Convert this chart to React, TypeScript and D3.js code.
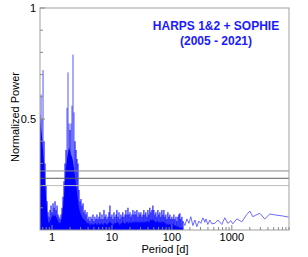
import React from "react";
import * as d3 from "d3";

// Dense periodogram part: period [d], lower solid envelope, spike tops
const densePeriods = [
  0.631, 0.656, 0.681, 0.708, 0.736, 0.764, 0.794, 0.825, 0.858, 0.891, 0.926, 0.962,
  1.0, 1.039, 1.08, 1.122, 1.166, 1.212, 1.259, 1.308, 1.359, 1.413, 1.468, 1.525,
  1.585, 1.647, 1.711, 1.778, 1.848, 1.92, 1.995, 2.073, 2.154, 2.239, 2.326, 2.417,
  2.512, 2.61, 2.712, 2.818, 2.929, 3.04, 3.16, 3.29, 3.41, 3.55, 3.68, 3.83,
  3.98, 4.13, 4.29, 4.46, 4.64, 4.82, 5.01, 5.2, 5.41, 5.62, 5.84, 6.07,
  6.31, 6.55, 6.81, 7.08, 7.36, 7.64, 7.94, 8.25, 8.58, 8.91, 9.26, 9.62,
  10.0, 10.4, 10.8, 11.2, 11.7, 12.1, 12.6, 13.1, 13.6, 14.1, 14.7, 15.2,
  15.8, 16.5, 17.1, 17.8, 18.5, 19.2, 20.0, 20.7, 21.5, 22.4, 23.3, 24.2,
  25.1, 26.1, 27.1, 28.2, 29.3, 30.4, 31.6, 32.9, 34.1, 35.5, 36.8, 38.3,
  39.8, 41.3, 42.9, 44.6, 46.4, 48.2, 50.1, 52.0, 54.1, 56.2, 58.4, 60.7,
  63.1, 65.5, 68.1, 70.8, 73.6, 76.4, 79.4, 82.5, 85.8, 89.1, 92.6, 96.2,
  100, 104, 108, 112, 117, 121, 126, 131, 136, 141, 147, 153,
];
const denseFloor = [
  0.5, 0.46, 0.42, 0.36, 0.3, 0.22, 0.15, 0.09, 0.04, 0.03, 0.04, 0.05,
  0.06, 0.07, 0.06, 0.07, 0.06, 0.05, 0.04, 0.03, 0.03, 0.04, 0.06, 0.1,
  0.15, 0.22, 0.28, 0.32, 0.35, 0.37, 0.36, 0.34, 0.33, 0.31, 0.28, 0.24,
  0.2, 0.17, 0.13, 0.1, 0.08, 0.07, 0.06, 0.05, 0.05, 0.04, 0.04, 0.03,
  0.03, 0.03, 0.02, 0.03, 0.02, 0.03, 0.02, 0.03, 0.03, 0.02, 0.03, 0.03,
  0.02, 0.03, 0.03, 0.02, 0.03, 0.03, 0.03, 0.02, 0.03, 0.03, 0.04, 0.03,
  0.03, 0.02, 0.03, 0.03, 0.03, 0.04, 0.03, 0.03, 0.02, 0.03, 0.03, 0.04,
  0.03, 0.03, 0.03, 0.04, 0.03, 0.03, 0.04, 0.03, 0.03, 0.04, 0.03, 0.04,
  0.03, 0.04, 0.03, 0.04, 0.03, 0.04, 0.03, 0.04, 0.03, 0.04, 0.03, 0.04,
  0.04, 0.03, 0.04, 0.05, 0.04, 0.05, 0.04, 0.04, 0.03, 0.04, 0.04, 0.03,
  0.04, 0.03, 0.04, 0.03, 0.04, 0.03, 0.03, 0.02, 0.03, 0.02, 0.03, 0.02,
  0.02, 0.03, 0.02, 0.02, 0.02, 0.01, 0.02, 0.01, 0.01, 0.01, 0.01, 0.01,
];
const densePeak = [
  0.52, 0.61, 0.5, 0.72, 0.4, 0.3, 0.2, 0.13, 0.08, 0.06, 0.09, 0.11,
  0.08, 0.12, 0.1, 0.13, 0.09, 0.11, 0.07, 0.06, 0.05, 0.07, 0.1, 0.15,
  0.22, 0.3, 0.36, 0.55, 0.71, 0.48, 0.45, 0.48, 0.56, 0.79, 0.53, 0.4,
  0.36, 0.32, 0.3, 0.18, 0.13, 0.14, 0.11, 0.12, 0.08, 0.09, 0.07, 0.08,
  0.05, 0.06, 0.04, 0.06, 0.05, 0.07, 0.04, 0.06, 0.05, 0.07, 0.05, 0.06,
  0.08, 0.05, 0.07, 0.05, 0.09, 0.06, 0.07, 0.05, 0.06, 0.08, 0.11, 0.06,
  0.07, 0.05, 0.08, 0.06, 0.07, 0.09, 0.06, 0.08, 0.05, 0.07, 0.06, 0.08,
  0.06, 0.07, 0.09, 0.07, 0.1, 0.07, 0.08, 0.06, 0.07, 0.09, 0.07, 0.085,
  0.07, 0.09, 0.06, 0.08, 0.07, 0.08, 0.06, 0.07, 0.09, 0.07, 0.08, 0.06,
  0.09, 0.07, 0.1, 0.08, 0.09, 0.11, 0.09, 0.07, 0.08, 0.06, 0.09, 0.07,
  0.08, 0.06, 0.09, 0.07, 0.09, 0.06, 0.07, 0.05, 0.08, 0.06, 0.07, 0.05,
  0.06, 0.05, 0.07, 0.05, 0.06, 0.04, 0.06, 0.07, 0.075, 0.05, 0.06, 0.04,
];

// Sparse long-period part (thin line)
const tailPeriods = [
  153, 165, 178, 192, 207, 224, 242, 261, 282, 304, 329, 355, 369, 398, 430, 464,
  521, 585, 681, 764, 858, 962, 1039, 1211, 1468, 1778, 1995, 2239, 2512, 2929,
  3548, 4299, 5209, 7079, 8913,
];
const tailPower = [
  0.04, 0.02, 0.05, 0.03, 0.06, 0.02, 0.045, 0.015, 0.04, 0.03, 0.055, 0.035, 0.05,
  0.025, 0.045, 0.028, 0.03, 0.045, 0.025, 0.055, 0.03, 0.042, 0.028, 0.05, 0.037,
  0.07, 0.085, 0.06, 0.067, 0.075, 0.05, 0.072, 0.068, 0.063, 0.058,
];

// False-alarm probability levels
const faLevels = [0.266, 0.233, 0.2];
const faColors = ["#8a8a8a", "#5e5e5e", "#bdbdbd"];

const xMajorTicks = [1, 10, 100, 1000];
const xTickLabels = ["1", "10", "100", "1000"];
const yMajorTicks = [0.5, 1];
const yTickLabels = ["0.5", "1"];

const titleLines = ["HARPS 1&2 + SOPHIE", "(2005 - 2021)"];

const W = 308;
const H = 257;
const m = { left: 40, right: 289, top: 8, bottom: 230 };

export default function App() {
  const x = d3.scaleLog().domain([0.63, 9000]).range([m.left, m.right]);
  const y = d3.scaleLinear().domain([0, 1]).range([m.bottom, m.top]);

  const dense = densePeriods.map((p, i) => ({ p, lo: denseFloor[i], hi: densePeak[i] }));
  const area = d3
    .area<{ p: number; lo: number }>()
    .x((d) => x(d.p))
    .y0(y(0))
    .y1((d) => y(d.lo));
  const tail = tailPeriods.map((p, i) => ({ p, v: tailPower[i] }));
  const line = d3
    .line<{ p: number; v: number }>()
    .x((d) => x(d.p))
    .y((d) => y(d.v));

  const minorX: number[] = [];
  for (let e = -1; e <= 3; e++) {
    for (let k = 2; k <= 9; k++) {
      const v = k * Math.pow(10, e);
      if (v >= 0.63 && v <= 9000) minorX.push(v);
    }
  }
  const minorY = d3.range(1, 10).map((i) => i / 10);

  const font = "'Liberation Sans', Arial, Helvetica, sans-serif";

  return (
    <svg
      width={W}
      height={H}
      style={{ position: "absolute", left: 0, top: 0, background: "#fff" }}
    >
      <rect x={0} y={0} width={W} height={H} fill="#fff" />
      <clipPath id="plotclip">
        <rect x={m.left} y={m.top} width={m.right - m.left} height={m.bottom - m.top} />
      </clipPath>
      <g clipPath="url(#plotclip)">
        <path d={area(dense) || ""} fill="#0000ff" />
        {dense.map((d, i) => (
          <line
            key={i}
            x1={x(d.p)}
            x2={x(d.p)}
            y1={y(0)}
            y2={y(d.hi)}
            stroke="#0000ff"
            strokeOpacity={d.hi > 0.45 ? 0.75 : 0.95}
            strokeWidth={d.hi > 0.45 ? 0.9 : 1.1}
          />
        ))}
        <path d={line(tail) || ""} fill="none" stroke="#5a5aff" strokeWidth={0.9} />
      </g>
      {faLevels.map((v, i) => (
        <line
          key={i}
          x1={m.left}
          x2={m.right}
          y1={y(v)}
          y2={y(v)}
          stroke={faColors[i]}
          strokeWidth={1}
        />
      ))}
      {/* frame */}
      <rect
        x={m.left}
        y={m.top}
        width={m.right - m.left}
        height={m.bottom - m.top}
        fill="none"
        stroke="#a0a0a0"
        strokeWidth={1}
      />
      {/* y ticks */}
      {minorY.map((v) => (
        <line key={v} x1={m.left} x2={m.left + 3} y1={y(v)} y2={y(v)} stroke="#888" />
      ))}
      {yMajorTicks.map((v, i) => (
        <g key={v}>
          <line x1={m.left} x2={m.left + 5} y1={y(v)} y2={y(v)} stroke="#888" />
          <text
            x={m.left - 4}
            y={y(v) + 4}
            textAnchor="end"
            fontFamily={font}
            fontSize={11}
            fill="#000"
          >
            {yTickLabels[i]}
          </text>
        </g>
      ))}
      {/* x ticks */}
      {minorX.map((v) => (
        <line key={v} x1={x(v)} x2={x(v)} y1={m.bottom} y2={m.bottom - 3} stroke="#888" />
      ))}
      {xMajorTicks.map((v, i) => (
        <g key={v}>
          <line x1={x(v)} x2={x(v)} y1={m.bottom} y2={m.bottom - 5} stroke="#888" />
          <text
            x={x(v)}
            y={m.bottom + 11}
            textAnchor="middle"
            fontFamily={font}
            fontSize={11}
            fill="#000"
          >
            {xTickLabels[i]}
          </text>
        </g>
      ))}
      <text
        x={165}
        y={253}
        textAnchor="middle"
        fontFamily={font}
        fontSize={11}
        fill="#000"
      >
        Period [d]
      </text>
      <text
        transform="translate(19,117) rotate(-90)"
        textAnchor="middle"
        fontFamily={font}
        fontSize={11}
        fill="#000"
      >
        Normalized Power
      </text>
      {titleLines.map((t, i) => (
        <text
          key={i}
          x={216}
          y={30 + i * 15}
          textAnchor="middle"
          fontFamily={font}
          fontWeight="bold"
          fontSize={12}
          fill="#1a1aff"
        >
          {t}
        </text>
      ))}
    </svg>
  );
}
